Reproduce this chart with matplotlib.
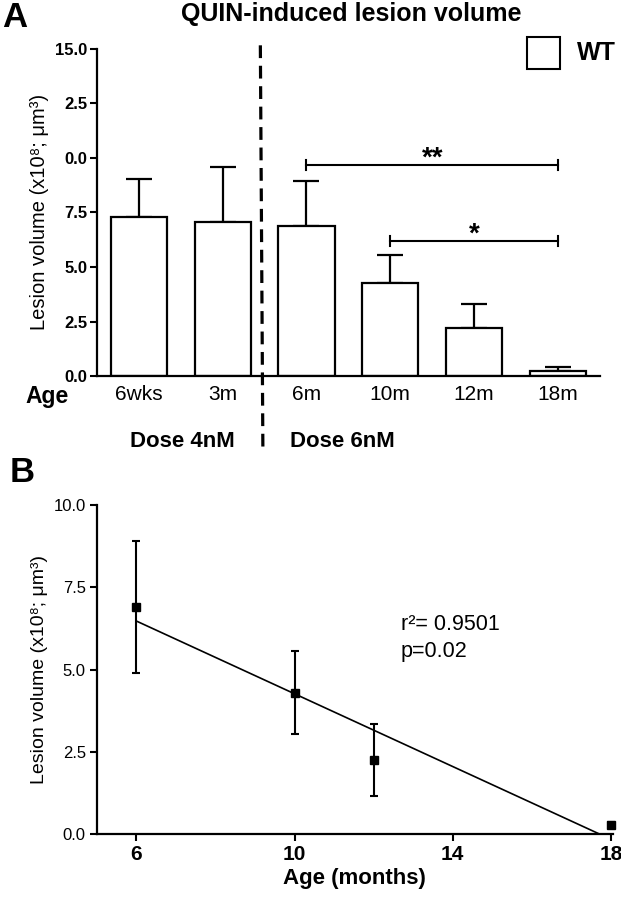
import numpy as np
import matplotlib
matplotlib.use("Agg")
import matplotlib.pyplot as plt

plt.rcParams['font.family'] = ['Liberation Sans', 'DejaVu Sans']

# panel A data
ages = ['6wks', '3m', '6m', '10m', '12m', '18m']
volume = [7.28, 7.08, 6.9, 4.26, 2.2, 0.24]
sem = [1.74, 2.52, 2.05, 1.3, 1.12, 0.18]
ytick_labels_a = ['0.0', '2.5', '5.0', '7.5', '0.0', '2.5', '15.0']

# panel B data (6nM dose only)
months = [6, 10, 12, 18]
vol_b = [6.9, 4.3, 2.25, 0.28]
sem_b = [2.0, 1.27, 1.08, 0.08]

ylab = 'Lesion volume (x10\u2078; \u03bcm\u00b3)'

fig = plt.figure(figsize=(6.21, 9.0), dpi=100)

# ---------- A ----------
axA = fig.add_axes([0.156, 0.582, 0.81, 0.364])
x = np.arange(len(ages))
axA.bar(x, volume, width=0.67, color='white', edgecolor='black', linewidth=1.6, zorder=2)
axA.errorbar(x, volume, yerr=[np.zeros(len(sem)), sem], fmt='none', ecolor='black',
             elinewidth=1.6, capsize=9.5, capthick=1.6, zorder=1)
axA.set_xlim(-0.5, 5.5)
axA.set_ylim(0, 15)
axA.set_yticks(np.arange(0, 15.1, 2.5))
axA.set_yticklabels(ytick_labels_a, fontsize=12, fontweight='bold')
axA.set_xticks(x)
axA.set_xticklabels(ages, fontsize=15)
axA.tick_params(axis='x', length=0, pad=6)
axA.tick_params(axis='y', length=5, width=1.5, direction='out', pad=2)
for s in ['top', 'right']:
    axA.spines[s].set_visible(False)
for s in ['left', 'bottom']:
    axA.spines[s].set_linewidth(1.6)
axA.set_ylabel(ylab, fontsize=14.5, labelpad=4)

# dashed divider between doses
axA.plot([1.45, 1.48], [15.15, -3.25], color='black', lw=2.3, linestyle=(0, (4, 2.4)),
         clip_on=False, zorder=3)

# significance brackets
def bracket(ax, x0, x1, y, label, ylab_pos):
    ax.plot([x0, x1], [y, y], color='black', lw=1.5, clip_on=False)
    for xx in (x0, x1):
        ax.plot([xx, xx], [y - 0.22, y + 0.22], color='black', lw=1.5)
    ax.text((x0 + x1) / 2, ylab_pos, label, ha='center', va='center',
            fontsize=20, fontweight='bold')

bracket(axA, 2, 5, 9.68, '**', 9.95)
bracket(axA, 3, 5, 6.2, '*', 6.5)

fig.text(25 / 621, 1 - 397 / 900, 'Age', ha='left', va='center', fontsize=16.5, fontweight='bold')
fig.text(182 / 621, 1 - 442 / 900, 'Dose 4nM', ha='center', va='center', fontsize=16, fontweight='bold')
fig.text(342 / 621, 1 - 442 / 900, 'Dose 6nM', ha='center', va='center', fontsize=16, fontweight='bold')
fig.text(351 / 621, 1 - 14 / 900, 'QUIN-induced lesion volume', ha='center', va='center',
         fontsize=18, fontweight='bold')
fig.text(0.003, 0.999, 'A', ha='left', va='top', fontsize=25, fontweight='bold')

# legend
fig.patches.append(plt.Rectangle((527 / 621, 1 - 69 / 900), 33 / 621, 32 / 900,
                                 transform=fig.transFigure, facecolor='white',
                                 edgecolor='black', lw=1.5))
fig.text(577 / 621, 1 - 53 / 900, 'WT', ha='left', va='center', fontsize=18, fontweight='bold')

# ---------- B ----------
axB = fig.add_axes([0.156, 0.0733, 0.831, 0.3656])
axB.errorbar(months, vol_b, yerr=sem_b, fmt='s', color='black', markersize=6,
             elinewidth=1.5, capsize=3, capthick=1.5, clip_on=False, zorder=3)
slope, icpt = np.polyfit(months, vol_b, 1)
x_end = -icpt / slope
axB.plot([months[0], x_end], [slope * months[0] + icpt, 0], color='black', lw=1.2)
axB.set_xlim(5, 18.05)
axB.set_ylim(0, 10)
axB.set_xticks([6, 10, 14, 18])
axB.set_xticklabels(['6', '10', '14', '18'], fontsize=15, fontweight='bold')
axB.set_yticks(np.arange(0, 10.1, 2.5))
axB.set_yticklabels(['0.0', '2.5', '5.0', '7.5', '10.0'], fontsize=12)
axB.tick_params(length=5, width=1.5, direction='out', pad=3)
for s in ['top', 'right']:
    axB.spines[s].set_visible(False)
for s in ['left', 'bottom']:
    axB.spines[s].set_linewidth(1.6)
axB.set_ylabel(ylab, fontsize=14, labelpad=4)
axB.set_xlabel('Age (months)', fontsize=16, fontweight='bold', labelpad=3)
axB.text(401 / 621, 1 - 625 / 900, 'r\u00b2= 0.9501', transform=fig.transFigure,
         ha='left', va='center', fontsize=15.5)
axB.text(401 / 621, 1 - 652 / 900, 'p=0.02', transform=fig.transFigure,
         ha='left', va='center', fontsize=15.5)
fig.text(0.016, 1 - 473 / 900, 'B', ha='left', va='center', fontsize=25, fontweight='bold')

fig.savefig('out.png', dpi=100)
